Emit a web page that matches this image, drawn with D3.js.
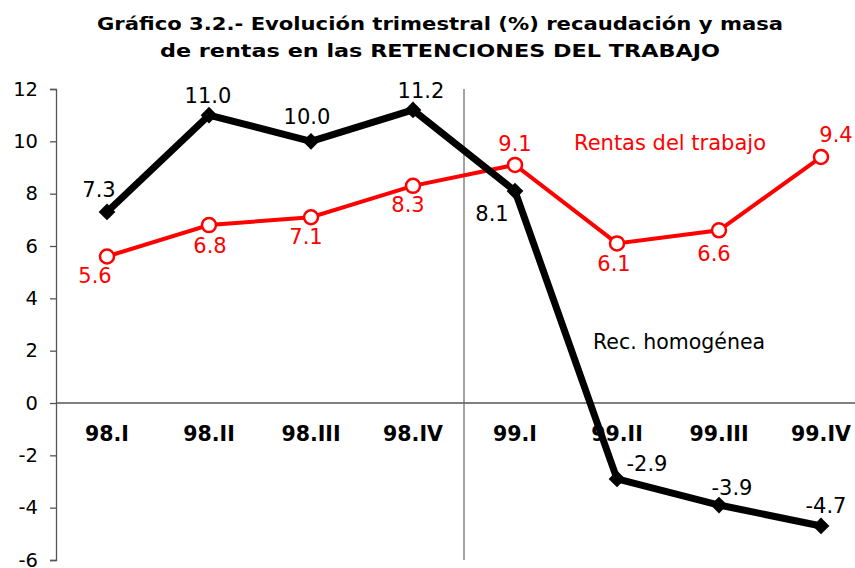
<!DOCTYPE html>
<html><head><meta charset="utf-8">
<script src="https://cdn.jsdelivr.net/npm/d3@7"></script>
<style>body{margin:0;background:#fff}svg{display:block}text{font-family:"DejaVu Sans",sans-serif}</style>
</head><body>
<svg id="c" width="855" height="568"></svg>
<script>
const categories = ["98.I","98.II","98.III","98.IV","99.I","99.II","99.III","99.IV"];
const recHomogenea = [7.3, 11.0, 10.0, 11.2, 8.1, -2.9, -3.9, -4.7];
const rentasTrabajo = [5.6, 6.8, 7.1, 8.3, 9.1, 6.1, 6.6, 9.4];
const yTicks = [-6,-4,-2,0,2,4,6,8,10,12];
const titleLines = ["Gráfico 3.2.- Evolución trimestral (%) recaudación y masa","de rentas en las RETENCIONES DEL TRABAJO"];
const seriesNames = ["Rec. homogénea","Rentas del trabajo"];

(function(){
const svg = d3.select("#c");
const mLeft = 56, mTop = 89, mBottom = 560, mRight = 56 + 8*102;
const x = d3.scaleBand().domain(categories).range([mLeft, mRight]);
const y = d3.scaleLinear().domain([-6, 12]).range([mBottom, mTop]);
const cx = d => x(d) + x.bandwidth()/2;

// title
const titleW = [686, 560];
svg.selectAll(".title").data(titleLines).join("text")
  .attr("x", 440).attr("y", (d,i)=>30 + i*27)
  .attr("text-anchor","middle").attr("font-weight","bold").attr("font-size",18)
  .attr("textLength",(d,i)=>titleW[i]).attr("lengthAdjust","spacingAndGlyphs")
  .attr("fill","#000").text(d=>d);

// y axis
const yAxis = d3.axisLeft(y).tickValues(yTicks).tickSize(6).tickPadding(12).tickFormat(d=>String(d));
const ga = svg.append("g").attr("transform",`translate(${mLeft},0)`).call(yAxis);
ga.select(".domain").attr("stroke","#555").attr("stroke-width",1.3);
ga.selectAll(".tick line").attr("stroke","#555").attr("stroke-width",1.3);
ga.selectAll(".tick text").attr("font-size",19.5).attr("fill","#000").attr("font-family","DejaVu Sans, sans-serif");

// zero axis
svg.append("line").attr("x1",mLeft).attr("x2",855).attr("y1",y(0)).attr("y2",y(0)).attr("stroke","#555").attr("stroke-width",1.3);
// separator
svg.append("line").attr("x1",x("99.I")).attr("x2",x("99.I")).attr("y1",mTop).attr("y2",mBottom).attr("stroke","#666").attr("stroke-width",1.2);

// category labels
svg.selectAll(".cat").data(categories).join("text")
  .attr("x",d=>cx(d)).attr("y",y(0)+38).attr("text-anchor","middle")
  .attr("font-weight","bold").attr("font-size",20.5).attr("fill","#000").text(d=>d);

const line = d3.line().x((d,i)=>cx(categories[i])).y(d=>y(d));

// red series
svg.append("path").datum(rentasTrabajo).attr("d",line).attr("fill","none").attr("stroke","#ff0000").attr("stroke-width",4);
svg.selectAll(".rc").data(rentasTrabajo).join("circle")
  .attr("cx",(d,i)=>cx(categories[i])).attr("cy",d=>y(d)).attr("r",7)
  .attr("fill","#fff").attr("stroke","#ff0000").attr("stroke-width",2.5);

// black series
svg.append("path").datum(recHomogenea).attr("d",line).attr("fill","none").attr("stroke","#000").attr("stroke-width",7).attr("stroke-linejoin","round");
svg.selectAll(".bd").data(recHomogenea).join("path")
  .attr("transform",(d,i)=>`translate(${cx(categories[i])},${y(d)}) rotate(45)`)
  .attr("d",d3.symbol(d3.symbolSquare, 140)())
  .attr("fill","#000");

// value labels (offsets from point: dx, baseline dy)
const blackOff = [[-8,-15],[-1,-12],[-4,-17],[8,-12],[-23,30],[30,-8],[13,-10],[5,-13]];
const redOff = [[-12,27],[1,28],[-5,27],[-5,26],[0,-14],[-3,28],[-5,31],[15,-15]];
svg.selectAll(".bl").data(recHomogenea).join("text")
  .attr("x",(d,i)=>cx(categories[i])+blackOff[i][0]).attr("y",(d,i)=>y(d)+blackOff[i][1])
  .attr("text-anchor","middle").attr("font-size",21).attr("fill","#000").text(d=>d.toFixed(1));
svg.selectAll(".rl").data(rentasTrabajo).join("text")
  .attr("x",(d,i)=>cx(categories[i])+redOff[i][0]).attr("y",(d,i)=>y(d)+redOff[i][1])
  .attr("text-anchor","middle").attr("font-size",21).attr("fill","#ff0000").text(d=>d.toFixed(1));

// series annotations
svg.append("text").attr("x",574).attr("y",150).attr("font-size",21).attr("fill","#ff0000")
  .attr("textLength",192).attr("lengthAdjust","spacingAndGlyphs").text(seriesNames[1]);
svg.append("text").attr("x",593).attr("y",349).attr("font-size",20.5).attr("fill","#000")
  .attr("font-family","Liberation Sans, Arial, sans-serif").text(seriesNames[0]);
})();
</script>
</body></html>
